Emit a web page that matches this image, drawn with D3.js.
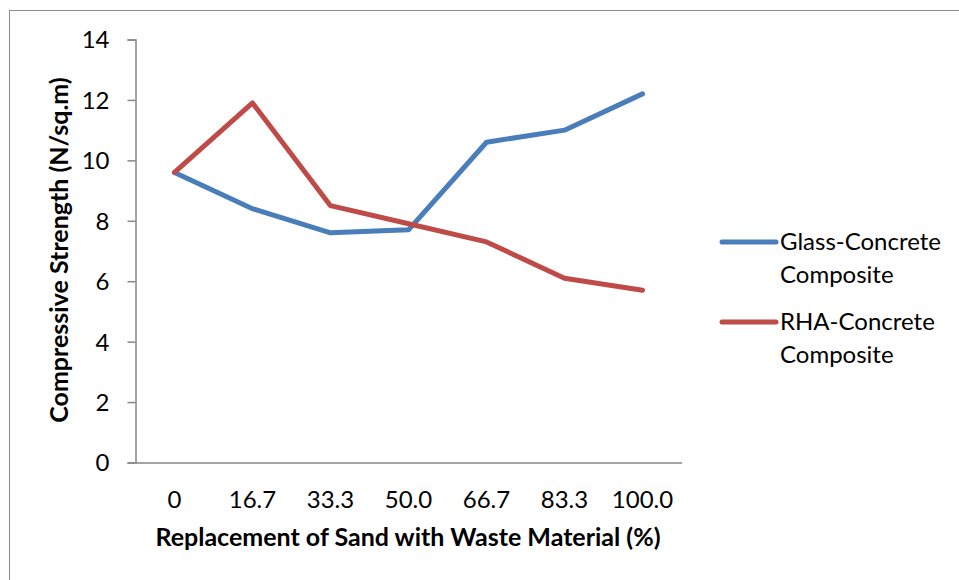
<!DOCTYPE html>
<html><head><meta charset="utf-8">
<script src="https://cdn.jsdelivr.net/npm/d3@7"></script>
<style>body{margin:0;background:#fff}svg{display:block}text{font-family:Lato,"Open Sans",sans-serif;fill:#000}</style>
</head><body>
<svg id="c" width="959" height="580"></svg>
<script>
const categories = ["0","16.7","33.3","50.0","66.7","83.3","100.0"];
const glass = [9.6, 8.4, 7.6, 7.7, 10.6, 11.0, 12.2];
const rha = [9.6, 11.9, 8.5, 7.9, 7.3, 6.1, 5.7];
const yTicks = [0,2,4,6,8,10,12,14];
const seriesNames = ["Glass-Concrete Composite","RHA-Concrete Composite"];
const colors = ["#4a7ebb","#be4b48"];

const svg = d3.select("#c");
svg.append("rect").attr("x",9.5).attr("y",10.5).attr("width",960).attr("height",580)
  .attr("fill","none").attr("stroke","#8c8c8c").attr("stroke-width",1);

const L=135.5, R=681.5, T=39.5, B=462.5;
const FS = 24;
const x = d3.scaleBand().domain(categories).range([L,R]);
const y = d3.scaleLinear().domain([0,14]).range([B,T]);

const yAxis = svg.append("g").attr("transform",`translate(${L},0)`)
  .call(d3.axisLeft(y).tickValues(yTicks).tickSize(8).tickPadding(18).tickFormat(d3.format("d")));
yAxis.select(".domain").attr("stroke","#868686").attr("stroke-width",1.5);
yAxis.selectAll(".tick line").attr("stroke","#868686").attr("stroke-width",1.5);
yAxis.selectAll("text").attr("font-size",FS).attr("font-family","Lato,sans-serif").attr("dy","0.35em");

const xAxis = svg.append("g").attr("transform",`translate(0,${B})`)
  .call(d3.axisBottom(x).tickSize(0).tickPadding(28));
xAxis.select(".domain").attr("stroke","#868686").attr("stroke-width",1.5);
xAxis.selectAll("text").attr("font-size",FS).attr("font-family","Lato,sans-serif");

const line = d3.line().x((d,i)=>x(categories[i])+x.bandwidth()/2).y(d=>y(d));
[glass,rha].forEach((s,i)=>{
  svg.append("path").datum(s).attr("d",line).attr("fill","none")
    .attr("stroke",colors[i]).attr("stroke-width",5).attr("stroke-linejoin","round").attr("stroke-linecap","round");
});

svg.append("text").attr("x",408).attr("y",546).attr("text-anchor","middle")
  .attr("font-size",25).attr("font-weight","bold").text("Replacement of Sand with Waste Material (%)");
svg.append("text").attr("transform",`translate(68,250) rotate(-90)`).attr("text-anchor","middle")
  .attr("font-size",25).attr("font-weight","bold").text("Compressive Strength (N/sq.m)");

const leg = svg.append("g");
seriesNames.forEach((n,i)=>{
  const cy = 242 + i*80;
  leg.append("line").attr("x1",722).attr("x2",776).attr("y1",cy).attr("y2",cy)
    .attr("stroke",colors[i]).attr("stroke-width",5).attr("stroke-linecap","round");
  const parts = n.split(" ");
  parts.forEach((p,j)=>{
    leg.append("text").attr("x",780).attr("y",cy+8+j*33).attr("font-size",FS).text(p);
  });
});
</script>
</body></html>
